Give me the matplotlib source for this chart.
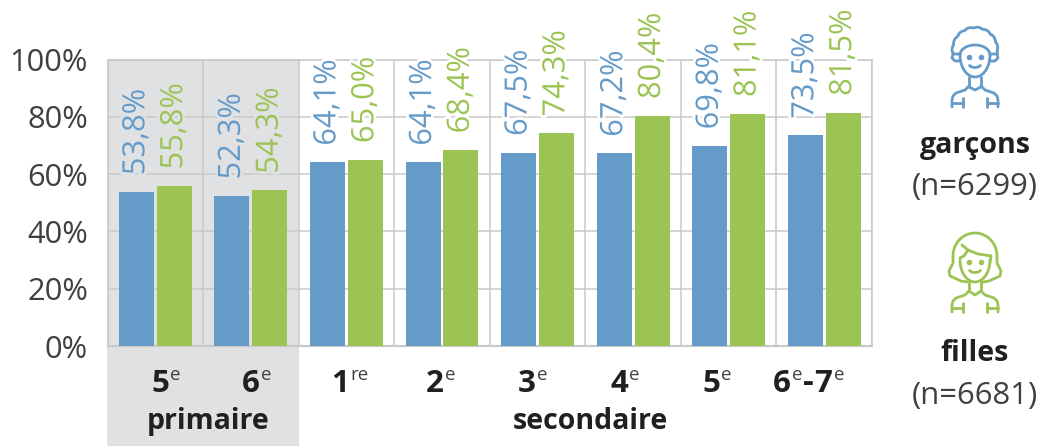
import numpy as np
import matplotlib
matplotlib.use("Agg")
import matplotlib.pyplot as plt
import matplotlib.patheffects as pe
from matplotlib.patches import Rectangle

plt.rcParams["font.family"] = ["Open Sans", "Noto Sans", "DejaVu Sans"]

# données
niveaux = ["5", "6", "1", "2", "3", "4", "5", "6-7"]
exposants = ["e", "e", "re", "e", "e", "e", "e", "e"]
garcons = [53.8, 52.3, 64.1, 64.1, 67.5, 67.2, 69.8, 73.5]
filles = [55.8, 54.3, 65.0, 68.4, 74.3, 80.4, 81.1, 81.5]
yticks = [0, 20, 40, 60, 80, 100]

BLEU = "#659bc9"
VERT = "#9bc454"
GRIS_FOND = "#e0e1e3"
GRILLE = "#c9c9c9"
TEXTE = "#404040"
NOIR = "#231f20"

W, H = 1040, 446
fig = plt.figure(figsize=(W / 100, H / 100), dpi=100, facecolor="white")

# axe principal, placé au pixel près
x0, x1, y0, y1 = 107.5, 872, 346, 59.5
ax = fig.add_axes([x0 / W, 1 - y0 / H, (x1 - x0) / W, (y0 - y1) / H])
ax.set_xlim(-0.5, 7.5)
ax.set_ylim(0, 100)
ax.patch.set_alpha(0)
ax.set_zorder(2)

# calques en pixels pour le fond, les libellés et les pictogrammes
bg = fig.add_axes([0, 0, 1, 1])
bg.set_xlim(0, W)
bg.set_ylim(H, 0)
bg.axis("off")
bg.set_zorder(1)
bg.add_patch(Rectangle((107, 59), 192, 387, fc=GRIS_FOND, ec="none"))

top = fig.add_axes([0, 0, 1, 1])
top.set_xlim(0, W)
top.set_ylim(H, 0)
top.axis("off")
top.patch.set_alpha(0)
top.set_zorder(3)

x = np.arange(len(niveaux))
ax.set_axisbelow(True)
ax.bar(x - 0.198, garcons, width=0.366, color=BLEU, zorder=3)
ax.bar(x + 0.198, filles, width=0.366, color=VERT, zorder=3)

ax.set_yticks(yticks)
ax.set_yticklabels([f"{v}%" for v in yticks], fontsize=22.2, color=TEXTE)
ax.tick_params(axis="y", length=0, pad=14)
ax.set_xticks(np.arange(-0.5, 8, 1), minor=True)
ax.set_xticks([])
ax.tick_params(axis="x", which="both", length=0)
ax.grid(True, axis="y", color=GRILLE, lw=1.1)
ax.grid(True, axis="x", which="minor", color=GRILLE, lw=1.1)
for s in ["left", "right", "top"]:
    ax.spines[s].set_color(GRILLE)
    ax.spines[s].set_linewidth(1.1)
ax.spines["bottom"].set_color(GRILLE)
ax.spines["bottom"].set_linewidth(1.6)

# valeurs verticales au-dessus des barres, avec un halo couleur de fond
for i in x:
    fond = GRIS_FOND if i < 2 else "white"
    for dx, val, col in [(-0.198, garcons[i], BLEU), (0.198, filles[i], VERT)]:
        ax.annotate(f"{val:.1f}%".replace(".", ","), (i + dx, val),
                    xytext=(0, 12), textcoords="offset points",
                    rotation=90, ha="center", va="bottom", fontsize=22.2,
                    color=col, annotation_clip=False, zorder=4,
                    path_effects=[pe.withStroke(linewidth=4, foreground=fond)])


def gras(px, py, s, size=20.5):
    top.text(px, py, s, fontsize=size, fontweight="bold", color=NOIR, ha="center", va="baseline")


def expo(px, s):
    top.text(px, 380, s, fontsize=13.5, color=TEXTE, ha="left", va="baseline")


# niveaux scolaires : chiffre en gras et exposant
chiffre_x = [160, 251, 340, 435, 527, 619, 711]
for cx, n, e in zip(chiffre_x, niveaux[:7], exposants[:7]):
    gras(cx, 392, n, 22.5)
    expo(cx + 10, e)
gras(782, 392, "6", 22.5)
expo(792, "e")
gras(808, 392, "-", 24)
gras(823, 392, "7", 22.5)
expo(834, "e")

gras(208, 429, "primaire")
gras(590, 429, "secondaire")

# légende
gras(975, 153, "garçons")
top.text(975, 195, "(n=6299)", fontsize=22.3, color=TEXTE, ha="center", va="baseline")
gras(975, 361, "filles")
top.text(975, 404, "(n=6681)", fontsize=22.3, color=TEXTE, ha="center", va="baseline")


def trait(xs, ys, col):
    top.plot(xs, ys, color=col, lw=2.0, solid_capstyle="round", solid_joinstyle="round")


def buste(dy, col, encolure):
    # cou, épaules et bras communs aux deux pictogrammes
    for s in (-1, 1):
        trait([975 + s * 6, 975 + s * 6], [dy + 77, dy + 86], col)
        trait([975 + s * 6, 975 + s * 10, 975 + s * 19, 975 + s * 22, 975 + s * 23, 975 + s * 23],
              [dy + 86, dy + 90, dy + 93, dy + 96, dy + 100, dy + 107], col)
        trait([975 + s * 12, 975 + s * 12], [dy + 98, dy + 107], col)
        trait([975 + s * 12, 975 + s * 23], [dy + 103, dy + 103], col)
    trait(*encolure, col)
    # yeux et sourire
    top.plot([969, 981], [dy + 57, dy + 57], "o", color=col, ms=3)
    t = np.radians(np.linspace(25, 155, 12))
    trait(975 + 6 * np.cos(t), dy + 64 + 3.5 * np.sin(t), col)
    # visage
    t = np.radians(np.linspace(0, 180, 30))
    trait(975 + 15 * np.cos(t), dy + 55 + 22 * np.sin(t), col)


# garçon : cheveux bouclés
t = np.radians(np.linspace(170, 370, 240))
r = 1 + 0.045 * np.abs(np.sin(7.5 * (t - t[0])))
trait(975 + 22 * r * np.cos(t), 50 + 22 * r * np.sin(t), BLEU)
buste(0, BLEU, ([969, 975, 981], [87, 90, 87]))
t = np.radians(np.linspace(180, 360, 30))
trait(975 + 15 * np.cos(t), 55 + 10 * np.sin(t), BLEU)
for s in (-1, 1):
    trait([975 + s * 15, 975 + s * 22, 975 + s * 23, 975 + s * 20, 975 + s * 16],
          [54, 54, 58, 61, 61], BLEU)

# fille : frange et cheveux mi-longs
t = np.radians(np.linspace(180, 360, 40))
trait(975 + 22 * np.cos(t), 256 + 23 * np.sin(t), VERT)
buste(205, VERT, ([969, 975, 981], [291, 295, 291]))
for s in (-1, 1):
    trait([975 + s * 22, 975 + s * 22, 975 + s * 26, 975 + s * 25, 975 + s * 14, 975 + s * 8],
          [256, 263, 271, 276, 281, 282], VERT)
trait([962, 968, 978, 985, 991], [245, 250, 254, 255, 256], VERT)
trait([960, 964, 968], [258, 256, 250], VERT)
trait([991, 990], [256, 262], VERT)

fig.savefig("out.png", dpi=100)
